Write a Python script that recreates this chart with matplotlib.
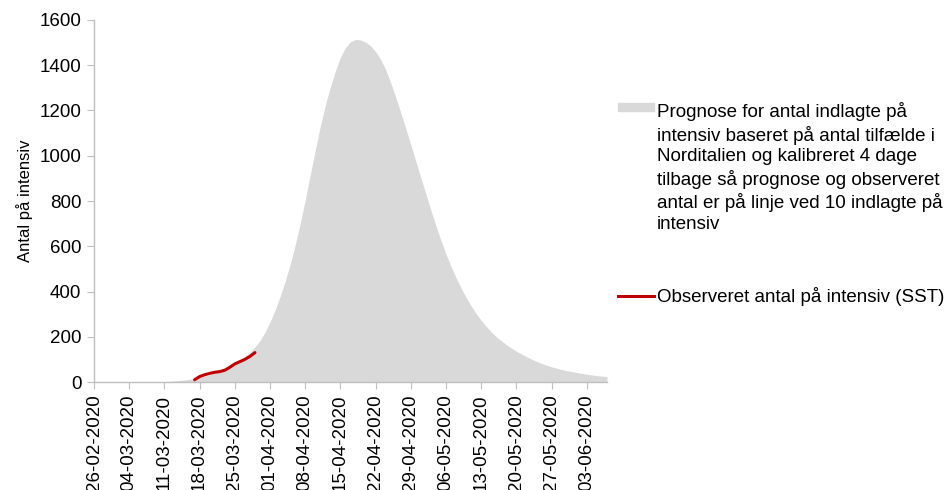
import matplotlib
matplotlib.use('Agg')
import matplotlib.pyplot as plt
import matplotlib.dates as mdates
from matplotlib.patches import Rectangle
from matplotlib.lines import Line2D
import pandas as pd

plt.rcParams['font.family'] = ['Liberation Sans', 'DejaVu Sans']

# prognose, one value per day from 26-02-2020
prognose_start = '2020-02-26'
prognose = [0, 0, 0, 0, 0, 0, 1, 1, 1, 1,
            1, 1, 2, 2, 2, 3, 5, 7, 9, 12,
            16, 21, 26, 32, 38, 46, 56, 68, 82, 96,
            112, 132, 155, 183, 220, 265, 318, 378, 445, 520,
            605, 700, 805, 915, 1025, 1130, 1225, 1305, 1375, 1435,
            1478, 1504, 1514, 1512, 1502, 1486, 1460, 1426, 1380, 1322,
            1258, 1190, 1120, 1048, 975, 902, 830, 758, 690, 625,
            565, 510, 460, 415, 373, 336, 302, 272, 245, 221,
            200, 182, 165, 150, 136, 124, 112, 101, 91, 82,
            74, 67, 61, 55, 50, 46, 42, 38, 34, 31,
            28, 26, 24]

# observeret (SST), one value per day from 17-03-2020
observeret_start = '2020-03-17'
observeret = [10, 24, 32, 38, 43, 46, 52, 65, 80, 90, 100, 113, 130]

prognose_label = ('Prognose for antal indlagte på\n'
                  'intensiv baseret på antal tilfælde i\n'
                  'Norditalien og kalibreret 4 dage\n'
                  'tilbage så prognose og observeret\n'
                  'antal er på linje ved 10 indlagte på\n'
                  'intensiv')
observeret_label = 'Observeret antal på intensiv (SST)'

x_prog = pd.date_range(prognose_start, periods=len(prognose), freq='D')
x_obs = pd.date_range(observeret_start, periods=len(observeret), freq='D')
tick_dates = pd.date_range(prognose_start, '2020-06-03', freq='7D')

fig = plt.figure(figsize=(9.52, 4.90), dpi=100)
ax = fig.add_axes([94/952, 1 - 382/490, (607 - 94)/952, (382 - 20)/490])

gray = '#D9D9D9'
red = '#C00000'
ax.fill_between(x_prog, 0, prognose, color=gray, linewidth=0)
ax.plot(x_obs, observeret, color=red, linewidth=2.2, solid_capstyle='round')

ax.set_xlim(x_prog[0], x_prog[-1])
ax.set_ylim(0, 1600)
ax.set_yticks(range(0, 1601, 200))
ax.set_xticks(tick_dates)
ax.xaxis.set_major_formatter(mdates.DateFormatter('%d-%m-%Y'))
plt.setp(ax.get_xticklabels(), rotation=90)

for s in ['top', 'right']:
    ax.spines[s].set_visible(False)
for s in ['left', 'bottom']:
    ax.spines[s].set_color('#BFBFBF')
    ax.spines[s].set_linewidth(1.0)
ax.tick_params(axis='both', direction='out', length=5, color='#BFBFBF',
               labelsize=13.5, labelcolor='#000000', pad=4)
ax.set_ylabel('Antal på intensiv', fontsize=12, labelpad=5)

# legend drawn on the figure, right of the plot
fig.patches.append(Rectangle((618/952, 1 - 111/490), 36/952, 8/490,
                             transform=fig.transFigure, color=gray))
fig.text(657/952, 1 - 102/490, prognose_label, fontsize=13.5,
         va='top', ha='left', linespacing=1.3)
fig.lines.append(Line2D([618/952, 654/952], [1 - 296/490, 1 - 296/490],
                        transform=fig.transFigure, color=red, linewidth=2.2))
fig.text(657/952, 1 - 296/490, observeret_label, fontsize=13.5,
         va='center', ha='left')

plt.savefig('out.png', dpi=100)
